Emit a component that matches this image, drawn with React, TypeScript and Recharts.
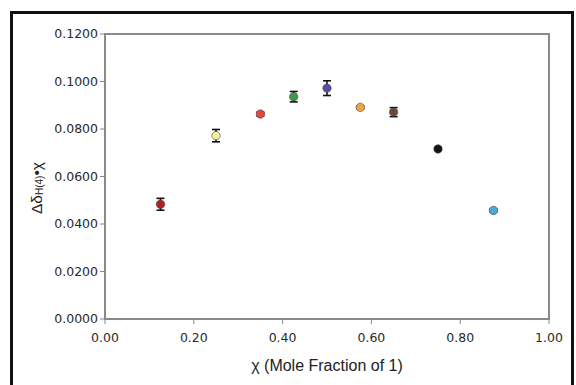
import { ScatterChart, Scatter, XAxis, YAxis, ErrorBar, Cell, ReferenceArea } from 'recharts'

const moleFraction = [0.125, 0.25, 0.35, 0.425, 0.5, 0.575, 0.65, 0.75, 0.875]
const shiftProduct = [0.0483, 0.0772, 0.0863, 0.0936, 0.0972, 0.0891, 0.0871, 0.0716, 0.0457]
const shiftError = [0.0025, 0.0026, 0.0008, 0.0022, 0.0031, 0.0005, 0.0019, 0.0006, 0.0005]
const pointColors = ['#b3201e', '#f3ef9c', '#e8453c', '#3f9a46', '#5b4aa6', '#f3a546', '#6b4a3c', '#151515', '#4aa9d9']
const xTicks = [0, 0.2, 0.4, 0.6, 0.8, 1.0]
const yTicks = [0, 0.02, 0.04, 0.06, 0.08, 0.1, 0.12]

const data = moleFraction.map((x, i) => ({ x, y: shiftProduct[i], err: shiftError[i] }))

const tickStyle = { fontSize: 12.5, fill: '#2a2a2a', fontFamily: 'DejaVu Sans' }

function Dot(props: any) {
  const { cx, cy, fill } = props
  if (cx == null || cy == null) return null
  return <circle cx={cx} cy={cy} r={4.2} fill={fill} stroke="#444" strokeWidth={0.6} />
}

function YLabel() {
  return (
    <text
      x={36}
      y={188}
      transform="rotate(-90, 36, 188)"
      textAnchor="middle"
      dominantBaseline="central"
      fontFamily="Liberation Sans"
      fontSize={15.5}
      fill="#222"
    >
      Δδ
      <tspan fontSize={10} dy={3}>H(4)</tspan>
      <tspan dy={-3}>•χ</tspan>
    </text>
  )
}

export default function App() {
  return (
    <div style={{ position: 'absolute', left: 0, top: 0, width: 576, height: 385, background: '#fff' }}>
      <div
        style={{
          position: 'absolute',
          left: 10,
          top: 11,
          width: 564,
          height: 380,
          border: '3px solid #111',
          boxSizing: 'border-box',
        }}
      />
      <div style={{ position: 'absolute', left: 0, top: 0 }}>
        <ScatterChart width={576} height={385} margin={{ top: 34, right: 27, bottom: 0, left: 0 }}>
          <XAxis
            type="number"
            dataKey="x"
            domain={[0, 1]}
            ticks={xTicks}
            tickFormatter={(v: number) => v.toFixed(2)}
            tick={tickStyle}
            tickSize={5}
            tickMargin={9}
            axisLine={false}
            tickLine={{ stroke: '#888' }}
            height={66}
            label={{
              value: 'χ (Mole Fraction of 1)',
              position: 'insideBottom',
              offset: 14,
              style: { fontSize: 16, fill: '#222', fontFamily: 'Liberation Sans' },
            }}
          />
          <YAxis
            type="number"
            dataKey="y"
            domain={[0, 0.12]}
            ticks={yTicks}
            tickFormatter={(v: number) => v.toFixed(4)}
            tick={tickStyle}
            tickSize={5}
            tickMargin={2}
            axisLine={false}
            tickLine={{ stroke: '#888' }}
            width={105}
            label={<YLabel />}
          />
          <ReferenceArea x1={0} x2={1} y1={0} y2={0.12} fill="none" stroke="#8a8a8a" strokeWidth={2} ifOverflow="visible" />
          <Scatter data={data} shape={<Dot />} isAnimationActive={false}>
            {data.map((_, i) => (
              <Cell key={i} fill={pointColors[i]} />
            ))}
            <ErrorBar dataKey="err" direction="y" width={4} stroke="#111" strokeWidth={1.6} />
          </Scatter>
        </ScatterChart>
      </div>
    </div>
  )
}
